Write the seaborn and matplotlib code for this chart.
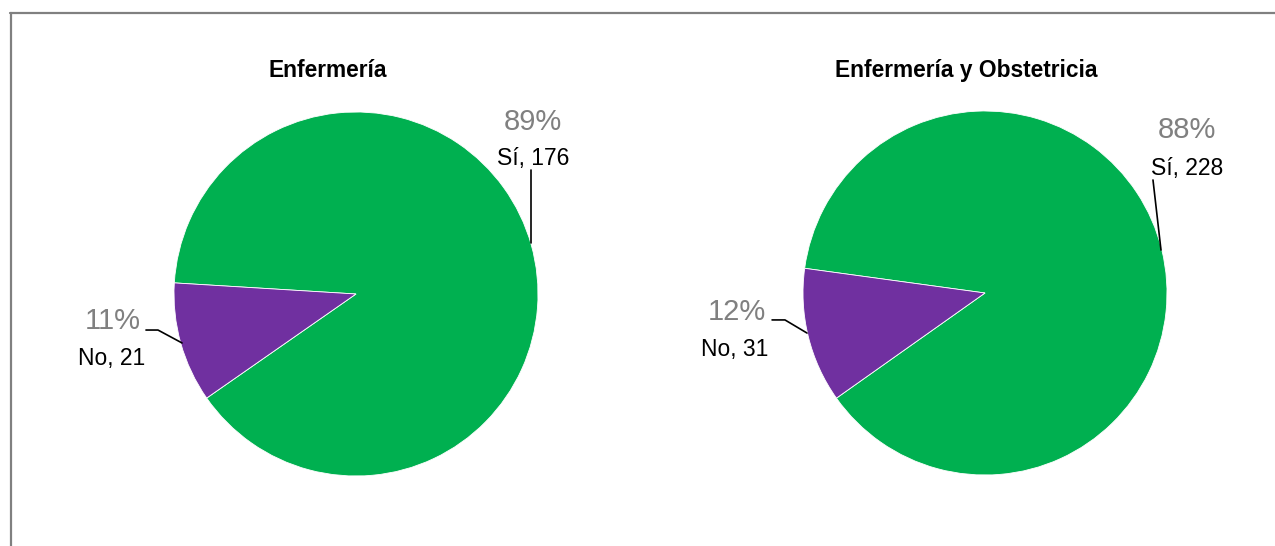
import matplotlib
matplotlib.use("Agg")
import matplotlib.pyplot as plt
from matplotlib.lines import Line2D
import seaborn as sns

# Survey answers per programme
programs = ["Enfermería", "Enfermería y Obstetricia"]
answers = ["Sí", "No"]
yes_counts = [176, 228]
no_counts = [21, 31]

sns.set_theme(style="white")
plt.rcParams["font.family"] = ["Liberation Sans", "DejaVu Sans"]

colors = {"Sí": "#00B050", "No": "#7030A0"}

W, H = 1275, 546
fig = plt.figure(figsize=(W / 100, H / 100), dpi=100)
fig.patch.set_facecolor("white")

# Pie centres / radius in pixels
centres = [(356, 294), (985, 293)]
radius = 182
start_angles = [176.5, 172.2]

# Label layout (in pie-radius units relative to the centre)
yes_pct_pos = [(0.973, 0.901), (1.110, 0.852)]
yes_lbl_pos = [(0.973, 0.709), (1.110, 0.648)]
yes_leader = [[(0.962, 0.681), (0.962, 0.280)],
              [(0.923, 0.621), (0.967, 0.236)]]
no_pct_pos = [(-1.335, -0.192), (-1.363, -0.148)]
no_lbl_pos = [(-1.341, -0.390), (-1.374, -0.346)]
no_leader = [[(-1.154, -0.198), (-1.088, -0.198), (-0.956, -0.269)],
             [(-1.170, -0.148), (-1.099, -0.148), (-0.978, -0.220)]]
title_pos = [(328, 77), (966, 77)]

for i, prog in enumerate(programs):
    cx, cy = centres[i]
    ax = fig.add_axes([(cx - radius) / W, (H - cy - radius) / H,
                       2 * radius / W, 2 * radius / H])
    vals = [yes_counts[i], no_counts[i]]
    ax.pie(vals, colors=[colors[a] for a in answers], startangle=start_angles[i],
           counterclock=False, radius=1,
           wedgeprops=dict(edgecolor="white", linewidth=0.6))
    ax.set_xlim(-1, 1)
    ax.set_ylim(-1, 1)
    ax.set_aspect("equal")
    ax.axis("off")

    total = sum(vals)
    pcts = [round(100 * v / total) for v in vals]

    # Sí labels
    ax.text(*yes_pct_pos[i], f"{pcts[0]}%", color="#808080", fontsize=21,
            ha="center", va="baseline", clip_on=False)
    ax.text(*yes_lbl_pos[i], f"{answers[0]}, {vals[0]}", color="black",
            fontsize=16.5, ha="center", va="baseline", clip_on=False)
    xs, ys = zip(*yes_leader[i])
    ax.plot(xs, ys, color="black", lw=1.2, clip_on=False)

    # No labels
    ax.text(*no_pct_pos[i], f"{pcts[1]}%", color="#808080", fontsize=21,
            ha="center", va="baseline", clip_on=False)
    ax.text(*no_lbl_pos[i], f"{answers[1]}, {vals[1]}", color="black",
            fontsize=16.5, ha="center", va="baseline", clip_on=False)
    xs, ys = zip(*no_leader[i])
    ax.plot(xs, ys, color="black", lw=1.2, clip_on=False)

    tx, ty = title_pos[i]
    fig.text(tx / W, 1 - ty / H, prog, fontsize=16.4, fontweight="bold",
             ha="center", va="baseline", color="black")

# Chart-area frame (top and left edges)
fig.add_artist(Line2D([10 / W, 1.0], [1 - 13 / H, 1 - 13 / H],
                      transform=fig.transFigure, color="#808080", lw=1.6))
fig.add_artist(Line2D([11 / W, 11 / W], [1 - 13 / H, 0.0],
                      transform=fig.transFigure, color="#808080", lw=1.6))

fig.savefig("out.png", dpi=100, facecolor="white")
